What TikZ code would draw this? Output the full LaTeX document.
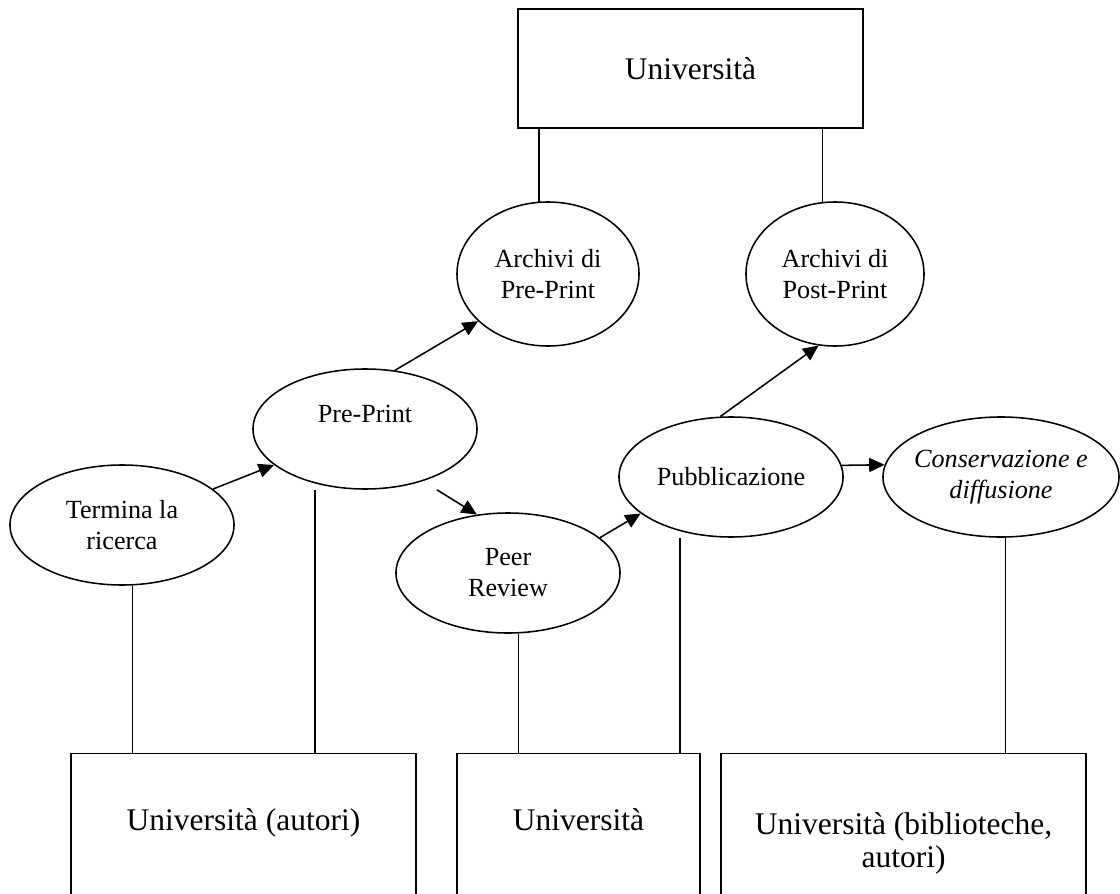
\documentclass[tikz,border=0pt]{standalone}
\usepackage{fontspec}
\setmainfont{Liberation Serif}
\usetikzlibrary{shapes.geometric,arrows.meta}

\begin{document}
\begin{tikzpicture}[x=0.025cm, y=-0.025cm]
		\tikzset{nd/.style={ellipse, draw=black, line width=1.1pt, inner sep=-10pt, minimum width=5.6cm, minimum height=3cm, align=center, font=\fontsize{18.6}{22}\selectfont}}
		\tikzset{bx/.style={rectangle, draw=black, line width=1pt, font=\fontsize{22.4}{24}\selectfont}}
		\tikzset{txt/.style={inner sep=0pt, align=center, anchor=north, font=\fontsize{22.4}{24}\selectfont}}
		\tikzset{ar/.style={line width=1.1pt, -{Triangle[length=11pt, width=10pt]}}}
		\tikzset{ln/.style={line width=0.9pt}}

		\path[use as bounding box, clip] (0,0) rectangle (1120,894);

		\node[bx, line width=1.6pt, minimum width=8.625cm, minimum height=2.975cm] (top) at (690.5,68.5) {Università};

		\node[nd, minimum width=4.55cm, minimum height=3.6cm] (apre) at (548,274) {Archivi di\\Pre-Print};
		\node[nd, minimum width=4.45cm, minimum height=3.6cm] (apost) at (835,274) {Archivi di\\Post-Print};
		\node[nd] (term) at (122,525) {Termina la\\ricerca};
		\node[nd] (pp) at (365,429) {Pre-Print\\\mbox{}};
		\node[nd] (peer) at (508,573) {Peer\\Review};
		\node[nd] (pub) at (731,477) {Pubblicazione};
		\node[nd, minimum width=5.9cm, font=\fontsize{18.6}{22}\selectfont\itshape] (cons) at (1001,477) {Conservazione e\\diffusione};

		\node[bx, anchor=north, minimum width=8.625cm, minimum height=4cm] (baut) at (243.5,753) {};
		\node[bx, anchor=north, minimum width=6.075cm, minimum height=4cm] (buni) at (578.5,753) {};
		\node[bx, anchor=north, minimum width=9.125cm, minimum height=4cm] (bbib) at (903.5,753) {};
		\node[txt] (taut) at (243.5,808) {Università (autori)};
		\node[txt] (tuni) at (578.5,808) {Università};
		\node[txt] (tbib) at (903.5,812) {Università (biblioteche,\\autori)};

		\draw[ln] (apre.97) to (apre.97 |- top.south);
		\draw[ln] (apost.100) to (apost.100 |- top.south);

		\draw[ln] (term.-80) to (term.-80 |- baut.north);
		\draw[ln] ([xshift=-1.25cm]pp.south) to ([xshift=-1.25cm]pp.south |- baut.north);
		\draw[ln] (peer.-80) to (peer.-80 |- buni.north);
		\draw[ln] ([xshift=-1.275cm]pub.south) to ([xshift=-1.275cm]pub.south |- buni.north);
		\draw[ln] (cons.-86) to (cons.-86 |- bbib.north);

		\draw[ar] (term) to (pp);
		\draw[ar] (pp.63) to (apre.214);
		\draw[ar, shorten <=0.41cm] (pp.-42) to (peer.118);
		\draw[ar] (peer.21) to (pub.202);
		\draw[ar] (pub.100) to (apost.257);
		\draw[ar] (pub.6) to (cons.174);

	\end{tikzpicture}
\end{document}
